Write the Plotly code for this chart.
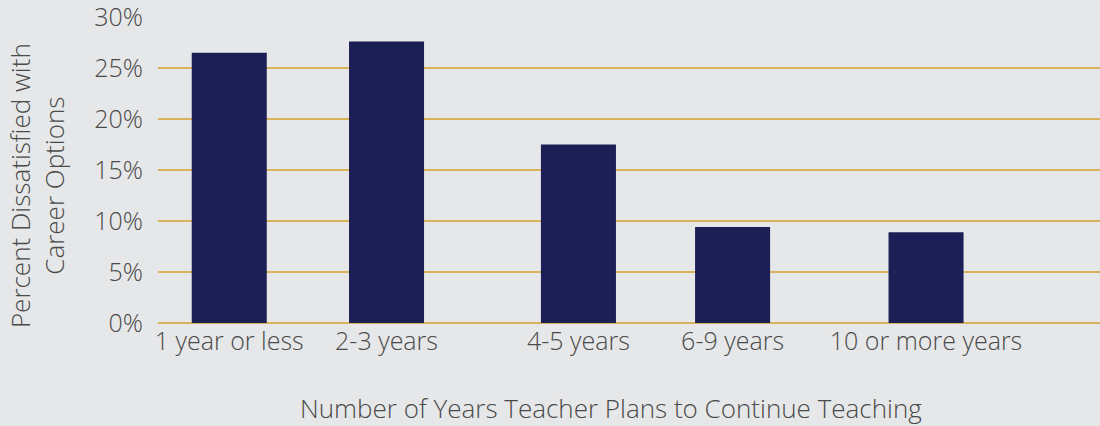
import plotly.graph_objects as go

categories = ["1 year or less", "2-3 years", "4-5 years", "6-9 years", "10 or more years"]
values = [26.5, 27.6, 17.5, 9.4, 8.9]
y_ticks = [0, 5, 10, 15, 20, 25, 30]
y_tick_labels = ["0%", "5%", "10%", "15%", "20%", "25%", "30%"]

# layout positions of category slots along the x axis (uneven spacing as in the original)
slot_positions = [0, 1, 2.22, 3.2, 4.43]

BG = "#e6e7e8"
BAR = "#1c1f55"
GRID = "#d8b35c"
TXT = "#4a4a4a"
FONT = "Open Sans"
FS = 25
FS_T = 26
W = 300

fig = go.Figure(go.Bar(
    x=slot_positions, y=values, width=0.477,
    marker=dict(color=BAR, line=dict(width=0)),
    hoverinfo="skip",
))

fig.update_layout(
    width=1100, height=426,
    paper_bgcolor=BG, plot_bgcolor=BG,
    margin=dict(l=158, r=0, t=17, b=102.5),
    showlegend=False,
    font=dict(family=FONT, color=TXT, size=FS, weight=W),
    xaxis=dict(
        range=[-0.453, 5.536], tickvals=slot_positions, ticktext=categories,
        showgrid=False, zeroline=False, showline=False, ticks="",
        tickfont=dict(size=FS, family=FONT, color=TXT, weight=W),
        ticklabelstandoff=1, ticklabeloverflow="allow",
    ),
    yaxis=dict(
        range=[0, 30], tickvals=y_ticks, ticktext=y_tick_labels,
        showgrid=True, gridcolor=GRID, gridwidth=2,
        zeroline=True, zerolinecolor=GRID, zerolinewidth=2,
        showline=False, ticks="",
        tickfont=dict(size=FS, family=FONT, color=TXT, weight=W),
        ticklabelstandoff=14, ticklabeloverflow="allow",
    ),
    annotations=[
        dict(text="Number of Years Teacher Plans to Continue Teaching",
             xref="paper", yref="paper", x=0.481, y=-0.278,
             showarrow=False, xanchor="center", yanchor="middle",
             font=dict(size=FS_T, family=FONT, color=TXT, weight=W)),
        dict(text="Percent Dissatisfied with<br>Career Options",
             xref="paper", yref="paper", x=-0.129, y=0.449,
             showarrow=False, xanchor="center", yanchor="middle", textangle=-90,
             font=dict(size=FS_T, family=FONT, color=TXT, weight=W)),
    ],
)

fig.write_html("out.html", config={"displayModeBar": False},
               post_script="document.body.style.margin='0';")
